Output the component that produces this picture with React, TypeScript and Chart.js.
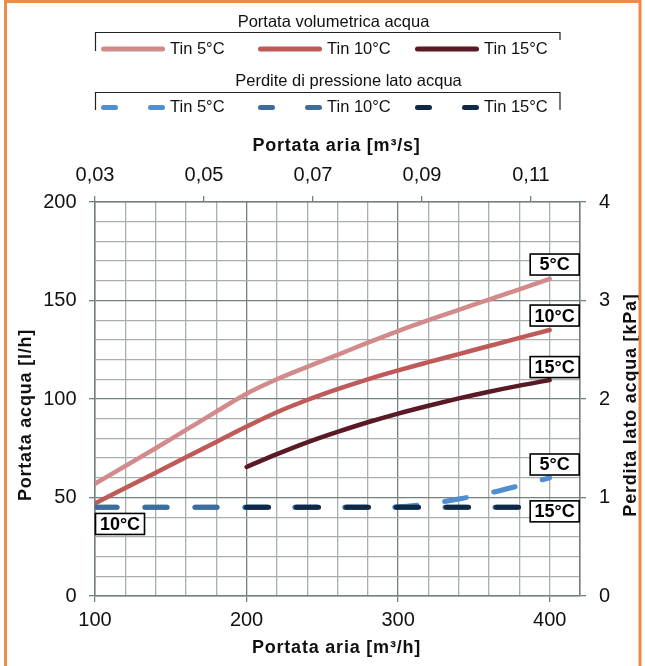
import React, { useEffect, useRef } from 'react';
import { Chart, registerables } from 'chart.js';

Chart.register(...registerables);

// ---------------- data ----------------
const AIR_FLOW_M3H = [100, 120, 140, 160, 180, 200, 220, 240, 260, 280, 300, 320, 340, 360, 380, 400];
const AIR_FLOW_M3H_TIN15 = [200, 220, 240, 260, 280, 300, 320, 340, 360, 380, 400];

const WATER_FLOW_TIN5 = [57, 66, 75, 84.3, 93.6, 102.7, 110, 116.3, 122.4, 128.6, 134.5, 140, 145.3, 150.5, 155.7, 161];
const WATER_FLOW_TIN10 = [47, 54.8, 62.6, 70.4, 78.2, 86, 93.3, 99.5, 105, 110, 114.5, 118.7, 122.8, 126.9, 131, 135];
const WATER_FLOW_TIN15 = [65.5, 72, 78, 83.3, 88.2, 92.6, 96.6, 100.3, 103.7, 106.8, 109.6];

const PRESSURE_DROP_TIN5 = [0.9, 0.9, 0.9, 0.9, 0.9, 0.9, 0.9, 0.9, 0.9, 0.9, 0.905, 0.935, 0.985, 1.045, 1.12, 1.2];
const PRESSURE_DROP_TIN10 = [0.9, 0.9, 0.9, 0.9, 0.9, 0.9, 0.9, 0.9, 0.9, 0.9, 0.9, 0.9, 0.9, 0.9, 0.9, 0.9];
const PRESSURE_DROP_TIN15 = [0.9, 0.9, 0.9, 0.9, 0.9, 0.9, 0.9, 0.9, 0.9, 0.9, 0.9];

const X_TICK_LABELS = [100, 200, 300, 400];
const X_MAJOR_GRID = [100, 200, 300, 420];
const Y_TICK_LABELS = [0, 50, 100, 150, 200];
const Y2_TICK_LABELS = [0, 1, 2, 3, 4];
const TOP_TICK_LABELS = [0.03, 0.05, 0.07, 0.09, 0.11];

const SERIES_NAMES = ['Tin 5°C', 'Tin 10°C', 'Tin 15°C'];
const BOX_TEXTS = ['5°C', '10°C', '15°C'];

const LEGEND_TITLE_FLOW = 'Portata volumetrica acqua';
const LEGEND_TITLE_DP = 'Perdite di pressione lato acqua';
const TITLE_TOP = 'Portata aria [m³/s]';
const TITLE_BOTTOM = 'Portata aria [m³/h]';
const TITLE_LEFT = 'Portata acqua [l/h]';
const TITLE_RIGHT = 'Perdita lato acqua [kPa]';

// ---------------- styles ----------------
const FONT = '"Liberation Sans", Arial, Helvetica, sans-serif';
const C_PINK = '#d28a8a';
const C_RED = '#bf5a58';
const C_MAROON = '#5a1a25';
const C_BLUE5 = '#4f8fcf';
const C_BLUE10 = '#3e6c9c';
const C_NAVY = '#0f2843';
const C_GRID = '#a9aeae';
const C_GRID_DARK = '#778080';
const C_TEXT = '#111111';
const C_ORANGE = '#ea8c48';

// label boxes: anchored to a series end point, offsets in pixels
const BOX_LABELS = [
  { dataset: 0, point: 'last', text: BOX_TEXTS[0], dx: 5, dy: -14.3 },
  { dataset: 1, point: 'last', text: BOX_TEXTS[1], dx: 5, dy: -14.5 },
  { dataset: 2, point: 'last', text: BOX_TEXTS[2], dx: 5, dy: -13 },
  { dataset: 3, point: 'last', text: BOX_TEXTS[0], dx: 5, dy: -13.3 },
  { dataset: 5, point: 'last', text: BOX_TEXTS[2], dx: 5, dy: 4 },
  { dataset: 4, point: 'first', text: BOX_TEXTS[1], dx: 25, dy: 16.6 },
];

const toPoints = (xs: number[], ys: number[]) => xs.map((x, i) => ({ x, y: ys[i] }));

const overlayPlugin = {
  id: 'overlay',
  afterDraw(chart: any) {
    const ctx: CanvasRenderingContext2D = chart.ctx;
    const ca = chart.chartArea;
    const ds = chart.data.datasets;

    // ---- boxed labels ----
    BOX_LABELS.forEach((b) => {
      const meta = chart.getDatasetMeta(b.dataset);
      const pts = meta.data;
      const p = b.point === 'last' ? pts[pts.length - 1] : pts[0];
      const cx = p.x + b.dx;
      const cy = p.y + b.dy;
      const w = 49, h = 21;
      ctx.save();
      ctx.fillStyle = '#ffffff';
      ctx.strokeStyle = '#000000';
      ctx.lineWidth = 1.6;
      ctx.fillRect(cx - w / 2, cy - h / 2, w, h);
      ctx.strokeRect(cx - w / 2, cy - h / 2, w, h);
      ctx.fillStyle = '#000';
      ctx.font = `bold 18px ${FONT}`;
      ctx.textAlign = 'center';
      ctx.textBaseline = 'middle';
      ctx.fillText(b.text, cx, cy + 1);
      ctx.restore();
    });

    // ---- axis titles ----
    const drawTitle = (text: string, x: number, y: number, rot: number) => {
      ctx.save();
      ctx.translate(x, y);
      ctx.rotate(rot);
      ctx.font = `bold 18px ${FONT}`;
      (ctx as any).letterSpacing = '0.8px';
      ctx.fillStyle = C_TEXT;
      ctx.textAlign = 'center';
      ctx.textBaseline = 'middle';
      ctx.fillText(text, 0, 0);
      ctx.restore();
    };
    const midX = (ca.left + ca.right) / 2;
    drawTitle(TITLE_TOP, midX - 1, 146, 0);
    drawTitle(TITLE_BOTTOM, midX - 1, 648, 0);
    drawTitle(TITLE_LEFT, 26, 415, -Math.PI / 2);
    drawTitle(TITLE_RIGHT, 631, 405, -Math.PI / 2);

    // ---- legend ----
    ctx.save();
    ctx.font = `16.5px ${FONT}`;
    ctx.fillStyle = C_TEXT;
    ctx.textBaseline = 'middle';
    ctx.textAlign = 'center';
    ctx.fillText(LEGEND_TITLE_FLOW, 333.5, 22);
    ctx.fillText(LEGEND_TITLE_DP, 348.5, 81.5);

    ctx.strokeStyle = '#222';
    ctx.lineWidth = 1.2;
    ctx.beginPath();
    ctx.moveTo(95.5, 51); ctx.lineTo(95.5, 32.5); ctx.lineTo(560, 32.5); ctx.lineTo(560, 40);
    ctx.moveTo(95.5, 110); ctx.lineTo(95.5, 92.5); ctx.lineTo(560, 92.5); ctx.lineTo(560, 110);
    ctx.stroke();

    const step = 157;
    for (let i = 0; i < 3; i++) {
      const x0 = 101 + step * i;
      // solid sample
      ctx.strokeStyle = ds[i].borderColor;
      ctx.lineWidth = 5;
      ctx.lineCap = 'round';
      ctx.setLineDash([]);
      ctx.beginPath();
      ctx.moveTo(x0 + 2.5, 49);
      ctx.lineTo(x0 + 61.5, 49);
      ctx.stroke();
      // dashed sample
      ctx.strokeStyle = ds[i + 3].borderColor;
      ctx.setLineDash([12, 35]);
      ctx.beginPath();
      ctx.moveTo(x0 + 2.5, 107.5);
      ctx.lineTo(x0 + 62.5, 107.5);
      ctx.stroke();
      ctx.setLineDash([]);
      ctx.textAlign = 'left';
      ctx.fillStyle = C_TEXT;
      ctx.fillText(SERIES_NAMES[i], x0 + 69, 49.5);
      ctx.fillText(SERIES_NAMES[i], x0 + 69, 107.5);
    }
    ctx.restore();

    // ---- orange frame ----
    ctx.save();
    ctx.strokeStyle = C_ORANGE;
    ctx.lineWidth = 3;
    ctx.beginPath();
    ctx.moveTo(5.5, 666); ctx.lineTo(5.5, 1.5); ctx.lineTo(640, 1.5); ctx.lineTo(640, 666);
    ctx.stroke();
    ctx.restore();
  },
};

const tickFont = { family: FONT, size: 20 };

export default function App() {
  const ref = useRef<HTMLCanvasElement>(null);

  useEffect(() => {
    const canvas = ref.current as HTMLCanvasElement;
    const solid = (label: string, xs: number[], ys: number[], color: string, order: number) => ({
      label, data: toPoints(xs, ys), borderColor: color, backgroundColor: color,
      xAxisID: 'x', yAxisID: 'y', borderWidth: 4.5, pointRadius: 0, fill: false,
      cubicInterpolationMode: 'monotone', borderCapStyle: 'round', borderJoinStyle: 'round', order,
    });
    const dashed = (label: string, xs: number[], ys: number[], color: string, order: number) => ({
      label, data: toPoints(xs, ys), borderColor: color, backgroundColor: color,
      xAxisID: 'x', yAxisID: 'y2', borderWidth: 5, pointRadius: 0, fill: false,
      borderDash: [22, 28], cubicInterpolationMode: 'monotone', borderCapStyle: 'round', borderJoinStyle: 'round', order,
    });

    const chart = new Chart(canvas, {
      type: 'line',
      data: {
        datasets: [
          solid(SERIES_NAMES[0], AIR_FLOW_M3H, WATER_FLOW_TIN5, C_PINK, 5),
          solid(SERIES_NAMES[1], AIR_FLOW_M3H, WATER_FLOW_TIN10, C_RED, 4),
          solid(SERIES_NAMES[2], AIR_FLOW_M3H_TIN15, WATER_FLOW_TIN15, C_MAROON, 3),
          dashed(SERIES_NAMES[0], AIR_FLOW_M3H, PRESSURE_DROP_TIN5, C_BLUE5, 2),
          dashed(SERIES_NAMES[1], AIR_FLOW_M3H, PRESSURE_DROP_TIN10, C_BLUE10, 1),
          dashed(SERIES_NAMES[2], AIR_FLOW_M3H_TIN15, PRESSURE_DROP_TIN15, C_NAVY, 0),
        ] as any,
      },
      options: {
        animation: false,
        responsive: false,
        devicePixelRatio: 1,
        layout: { padding: { top: 130, left: 0, right: 0, bottom: 0 } },
        plugins: { legend: { display: false }, tooltip: { enabled: false }, title: { display: false } },
        scales: {
          x: {
            type: 'linear', position: 'bottom', min: 100, max: 420,
            afterFit: (s: any) => { s.height = 70; },
            ticks: {
              stepSize: 20, autoSkip: false, maxRotation: 0, padding: 6, color: C_TEXT, font: tickFont,
              callback: (v: any) => (X_TICK_LABELS.includes(Number(v)) ? String(v) : ''),
            },
            grid: {
              tickLength: 6,
              color: (c: any) => (X_MAJOR_GRID.includes(c.tick?.value) ? C_GRID_DARK : C_GRID),
              lineWidth: 1.3,
              tickColor: (c: any) => (X_TICK_LABELS.includes(c.tick?.value) ? C_GRID_DARK : 'rgba(0,0,0,0)'),
            },
            border: { color: C_GRID_DARK, width: 1.5 },
          },
          x2: {
            type: 'linear', position: 'top', min: 0.03, max: 0.119,
            afterFit: (s: any) => { s.height = 72; },
            afterBuildTicks: (s: any) => { s.ticks = TOP_TICK_LABELS.map((v) => ({ value: v })); },
            ticks: {
              autoSkip: false, maxRotation: 0, padding: 8.5, color: C_TEXT, font: tickFont,
              callback: (v: any) => Number(v).toFixed(2).replace('.', ','),
            },
            grid: { drawOnChartArea: false, tickLength: 6, color: C_GRID_DARK, lineWidth: 1.3 },
            border: { color: C_GRID_DARK, width: 1.5 },
          },
          y: {
            type: 'linear', position: 'left', min: 0, max: 200,
            afterFit: (s: any) => { s.width = 95; },
            ticks: {
              stepSize: 10, autoSkip: false, padding: 12.5, color: C_TEXT, font: tickFont,
              callback: (v: any) => (Y_TICK_LABELS.includes(Number(v)) ? String(v) : ''),
            },
            grid: {
              tickLength: 6,
              color: (c: any) => (Y_TICK_LABELS.includes(c.tick?.value) ? C_GRID_DARK : C_GRID),
              lineWidth: 1.3,
              tickColor: (c: any) => (Y_TICK_LABELS.includes(c.tick?.value) ? C_GRID_DARK : 'rgba(0,0,0,0)'),
            },
            border: { color: C_GRID_DARK, width: 1.5 },
          },
          y2: {
            type: 'linear', position: 'right', min: 0, max: 4,
            afterFit: (s: any) => { s.width = 65; },
            afterBuildTicks: (s: any) => { s.ticks = Y2_TICK_LABELS.map((v) => ({ value: v })); },
            ticks: { autoSkip: false, padding: 13, color: C_TEXT, font: tickFont },
            grid: { drawOnChartArea: false, tickLength: 6, color: C_GRID_DARK, lineWidth: 1.3 },
            border: { color: C_GRID_DARK, width: 1.5 },
          },
        },
      } as any,
      plugins: [overlayPlugin],
    });
    return () => chart.destroy();
  }, []);

  return (
    <div style={{ position: 'absolute', left: 0, top: 0, width: 645, height: 666, background: '#ffffff' }}>
      <canvas ref={ref} width={645} height={666} style={{ display: 'block', width: 645, height: 666 }} />
    </div>
  );
}
